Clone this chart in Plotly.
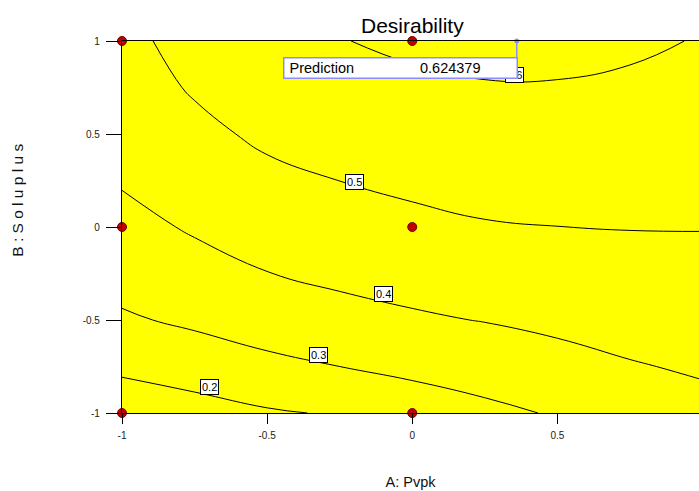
import plotly.graph_objects as go

# Coded factor levels of the response grid
a_levels = [-1, -0.75, -0.5, -0.25, 0, 0.25, 0.5, 0.75, 1]
b_levels = [-1, -0.75, -0.5, -0.25, 0, 0.25, 0.5, 0.75, 1]

# Desirability over the A x B grid (one row per B level, bottom to top)
desirability = [
    [0.140, 0.159, 0.190, 0.208, 0.240, 0.278, 0.308, 0.342, 0.376],
    [0.218, 0.250, 0.280, 0.300, 0.326, 0.345, 0.369, 0.3945, 0.4096],
    [0.289, 0.315, 0.3394, 0.368, 0.389, 0.4029, 0.420, 0.431, 0.441],
    [0.333, 0.3625, 0.3983, 0.420, 0.433, 0.4477, 0.4583, 0.4671, 0.4725],
    [0.3685, 0.411, 0.4385, 0.4585, 0.481, 0.4945, 0.4995, 0.5026, 0.5029],
    [0.4085, 0.4425, 0.478, 0.5005, 0.5161, 0.5278, 0.5316, 0.5303, 0.5259],
    [0.433, 0.4768, 0.5176, 0.5325, 0.5499, 0.5612, 0.5633, 0.5581, 0.5489],
    [0.457, 0.509, 0.543, 0.5648, 0.5838, 0.5947, 0.5949, 0.5859, 0.572],
    [0.479, 0.528, 0.567, 0.597, 0.616, 0.626, 0.625, 0.615, 0.595],
]

contour_levels = [0.2, 0.3, 0.4, 0.5, 0.6]

# Design points (3x3 factorial)
design_a = [-1, 0, 1, -1, 0, 1, -1, 0, 1]
design_b = [-1, -1, -1, 0, 0, 0, 1, 1, 1]

# Flagged prediction
pred_a = 0.36
pred_b = 1.0
pred_value = 0.624379

x_tickvals = [-1, -0.5, 0, 0.5, 1]
x_ticktext = ["-1", "-0.5", "0", "0.5", "1"]
y_tickvals = [-1, -0.5, 0, 0.5, 1]
y_ticktext = ["-1", "-0.5", "0", "0.5", "1"]

# Where each contour label box sits (layout only)
label_spots = [(-0.697, -0.861), (-0.323, -0.69), (-0.098, -0.361),
               (-0.2, 0.241), (0.351, 0.819)]

FONT = "Liberation Sans, Arial, sans-serif"
FLAG = "#8c8cff"

fig = go.Figure()

fig.add_trace(go.Contour(
    x=a_levels, y=b_levels, z=desirability,
    autocontour=False,
    contours=dict(start=contour_levels[0], end=contour_levels[-1],
                  size=0.1, coloring="none", showlabels=False),
    line=dict(color="black", width=1, smoothing=1.3),
    showscale=False, hoverinfo="skip",
))

fig.add_trace(go.Scatter(
    x=design_a, y=design_b, mode="markers",
    marker=dict(symbol="circle", size=9, color="#c00000",
                line=dict(color="#700000", width=1)),
    cliponaxis=False, hoverinfo="skip", showlegend=False,
))

fig.add_trace(go.Scatter(
    x=[pred_a], y=[pred_b], mode="markers",
    marker=dict(size=5, color=FLAG),
    cliponaxis=False, hoverinfo="skip", showlegend=False,
))

annotations = []
for lvl, (lx, ly) in zip(contour_levels, label_spots):
    annotations.append(dict(
        x=lx, y=ly, xref="x", yref="y", text=f"{lvl:g}", showarrow=False,
        font=dict(family=FONT, size=11, color="black"),
        bgcolor="white", bordercolor="black", borderwidth=1, borderpad=1,
    ))

# Prediction flag box
annotations.append(dict(
    x=pred_a, y=pred_b, xref="x", yref="y", xanchor="right", yanchor="top",
    xshift=1.5, yshift=-16, text="&nbsp;Prediction", align="left",
    width=230, height=17, showarrow=False,
    font=dict(family=FONT, size=14.5, color="black"),
    bgcolor="white", bordercolor=FLAG, borderwidth=1.5, borderpad=1,
))
annotations.append(dict(
    x=pred_a, y=pred_b, xref="x", yref="y", xanchor="right", yanchor="middle",
    xshift=-35, yshift=-26.5, text=f"{pred_value:.6f}", showarrow=False,
    font=dict(family=FONT, size=14.5, color="black"),
))

# Chart title and vertical factor label
annotations.append(dict(
    x=0, y=1, xref="x", yref="paper", yanchor="middle", yshift=16,
    text="Desirability", showarrow=False,
    font=dict(family=FONT, size=21, color="black"),
))
annotations.append(dict(
    x=0, y=0.572, xref="paper", yref="paper", xanchor="center",
    yanchor="middle", xshift=-104.5, textangle=-90,
    text="B : S o l u p l u s", showarrow=False,
    font=dict(family=FONT, size=15.5, color="#111"),
))

fig.update_layout(
    width=699, height=491,
    margin=dict(l=122, r=0, t=41, b=78, autoexpand=False),
    paper_bgcolor="white", plot_bgcolor="#ffff00",
    showlegend=False,
    annotations=annotations,
    shapes=[dict(
        type="line", xref="x", yref="y", x0=pred_a, x1=pred_a,
        ysizemode="pixel", yanchor=pred_b, y0=0, y1=-16,
        line=dict(color=FLAG, width=1.5),
    )],
)

fig.update_xaxes(
    range=[-1, 0.988], tickvals=x_tickvals, ticktext=x_ticktext,
    ticks="outside", ticklen=10, tickcolor="black", tickwidth=1,
    showline=True, linecolor="black", linewidth=1.2, mirror=True,
    showgrid=False, zeroline=False, automargin=False,
    ticklabelstandoff=3,
    tickfont=dict(family=FONT, size=10, color="#222"),
    title=dict(text="A: Pvpk", standoff=36,
               font=dict(family=FONT, size=14.5, color="#111")),
)
fig.update_yaxes(
    range=[-1, 1], tickvals=y_tickvals, ticktext=y_ticktext,
    ticks="outside", ticklen=15, tickcolor="black", tickwidth=1,
    showline=True, linecolor="black", linewidth=1.2, mirror=False,
    showgrid=False, zeroline=False, automargin=False,
    ticklabelstandoff=4,
    tickfont=dict(family=FONT, size=10, color="#222"),
)

fig.write_html("out.html")
